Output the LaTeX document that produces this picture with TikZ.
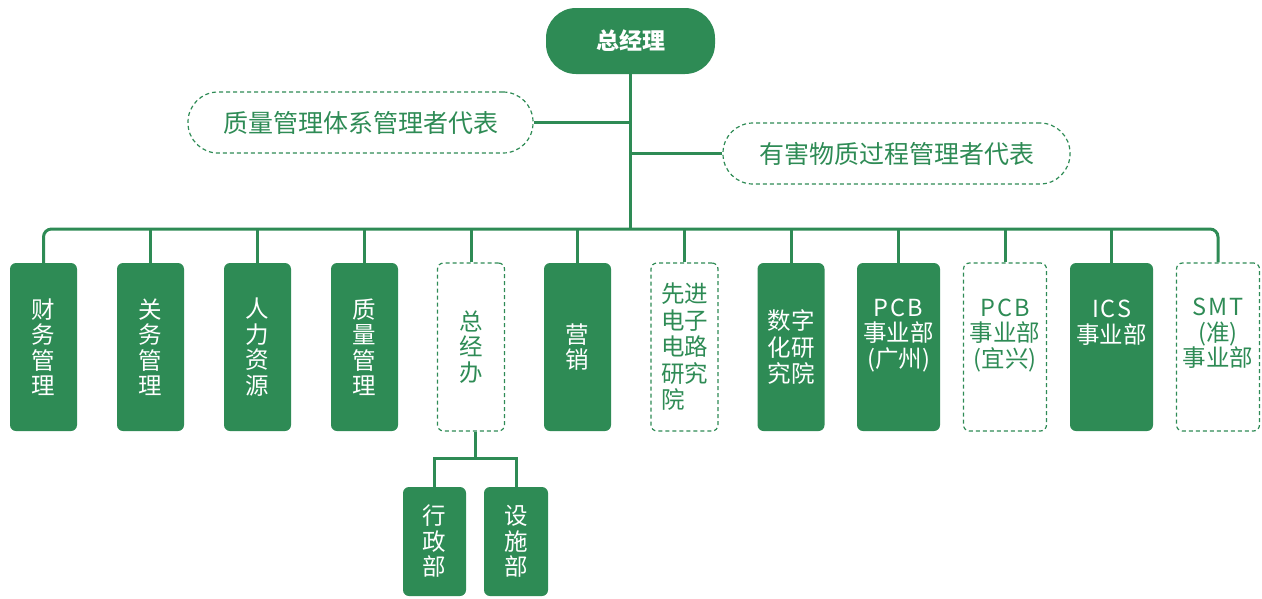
\documentclass[tikz,border=0pt]{standalone}
\usepackage{fontspec}
\setmainfont{Noto Sans CJK SC}
\newcommand{\lsp}[1]{{\addfontfeatures{LetterSpace=8}#1}}
\usetikzlibrary{calc}
\definecolor{gr}{RGB}{46,139,85}
\begin{document}
\begin{tikzpicture}[x=1pt,y=-1pt,
  conn/.style={draw=gr,line width=3pt},
  topbox/.style={fill=gr,text=white,rounded corners=30pt,minimum width=169pt,minimum height=66pt,inner sep=0pt,font=\bfseries\fontsize{23}{25}\selectfont},
  rep/.style={draw=gr,line width=1.2pt,dash pattern=on 4pt off 3pt,rounded corners=30pt,minimum height=61pt,inner sep=0pt,text=gr,font=\fontsize{25}{26}\selectfont},
  solidbox/.style={fill=gr,text=white,rounded corners=6pt,minimum height=168pt,inner sep=0pt,align=center,font=\fontsize{23.5}{25.5}\selectfont},
  dashbox/.style={draw=gr,line width=1.2pt,dash pattern=on 4pt off 3pt,rounded corners=6pt,text=gr,minimum height=168pt,inner sep=0pt,align=center,font=\fontsize{23.5}{25.5}\selectfont},
  nw/.style={minimum width=67pt},
  ww/.style={minimum width=83pt},
  subbox/.style={fill=gr,text=white,rounded corners=6pt,minimum height=109pt,minimum width=63pt,inner sep=0pt,align=center,font=\fontsize{23.5}{25.5}\selectfont}
]
\useasboundingbox (0,0) rectangle (1262,598);

\node[topbox] (gm) at (630.5,41) {总经理};
\node[rep,minimum width=345pt] (qm) at (360.5,122.5) {质量管理体系管理者代表};
\node[rep,minimum width=347pt] (hs) at (896.5,153.5) {有害物质过程管理者代表};

\node[solidbox,nw] (b1) at (43.5,347) {财\\务\\管\\理};
\node[solidbox,nw] (b2) at (150.5,347) {关\\务\\管\\理};
\node[solidbox,nw] (b3) at (257.5,347) {人\\力\\资\\源};
\node[solidbox,nw] (b4) at (364.5,347) {质\\量\\管\\理};
\node[dashbox,nw] (b5) at (471,347) {总\\经\\办};
\node[solidbox,nw] (b6) at (577.5,347) {营\\销};
\node[dashbox,nw,align=left,font=\fontsize{23.5}{26.5}\selectfont] (b7) at (684.5,347) {先进\\电子\\电路\\研究\\院};
\node[solidbox,nw,font=\fontsize{23.5}{26.5}\selectfont] (b8) at (791,347) {数字\\化研\\究院};
\node[solidbox,ww,text depth=28pt] (b9) at (898.5,347) {\lsp{PCB}\\事业部\\\lsp{(}广州\lsp{)}};
\node[dashbox,ww,text depth=28pt] (b10) at (1005,347) {\lsp{PCB}\\事业部\\\lsp{(}宜兴\lsp{)}};
\node[solidbox,ww,text depth=25pt] (b11) at (1111.5,347) {\lsp{ICS}\\事业部\\\strut};
\node[dashbox,ww,text depth=29pt] (b12) at (1218,347) {\lsp{SMT}\\\lsp{(}准\lsp{)}\\事业部};

\node[subbox] (xz) at (434.5,541.5) {行\\政\\部};
\node[subbox,minimum width=64pt] (ss) at (516,541.5) {设\\施\\部};

\coordinate (bus) at (0,229);
\coordinate (sbus) at (0,458);
\coordinate (sj) at ($(xz.north)!0.5!(ss.north)$);

\draw[conn] (gm.south) -- (gm.south |- bus);
\draw[conn] (qm.east) -- (qm.east -| gm.south);
\draw[conn] (hs.west) -- (hs.west -| gm.south);
\draw[conn,rounded corners=8pt] (b1.north) |- (bus -| b12.north) -- (b12.north);
\foreach \b in {b2,b3,b4,b5,b6,b7,b8,b9,b10,b11}
  \draw[conn] (\b.north) -- (\b.north |- bus);
\draw[conn] (b5.south -| sj) -- (sj |- sbus);
\draw[conn] (xz.north) |- (sbus -| ss.north) -- (ss.north);
\end{tikzpicture}
\end{document}
